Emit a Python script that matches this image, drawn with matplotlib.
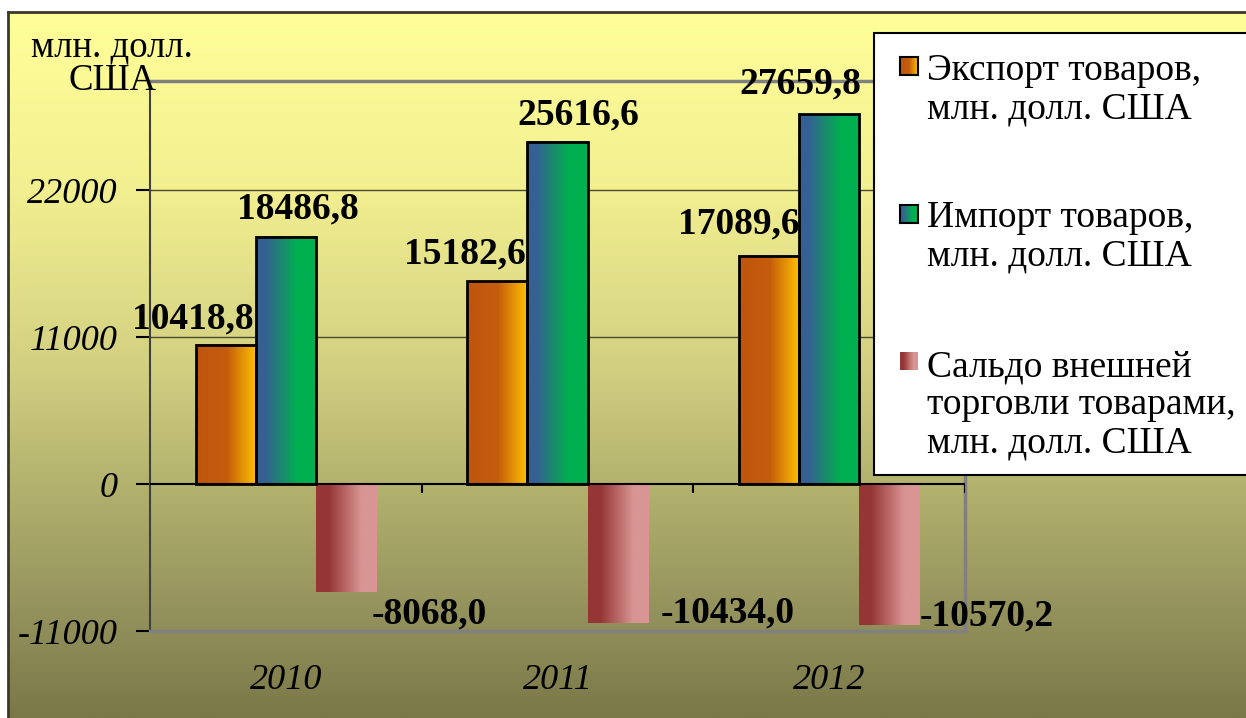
import matplotlib
matplotlib.use("Agg")
import matplotlib.pyplot as plt
from matplotlib.colors import LinearSegmentedColormap
from matplotlib.patches import Rectangle
import numpy as np

plt.rcParams['font.family'] = ['Liberation Serif', 'DejaVu Serif']

# data
years = ['2010', '2011', '2012']
export = [10418.8, 15182.6, 17089.6]
imports = [18486.8, 25616.6, 27659.8]
saldo = [-8068.0, -10434.0, -10570.2]
series_names = ['Экспорт товаров,\nмлн. долл. США',
                'Импорт товаров,\nмлн. долл. США',
                'Сальдо внешней\nторговли товарами,\nмлн. долл. США']
yticks = [-11000, 0, 11000, 22000]

W, H = 1246, 718
fig = plt.figure(figsize=(W / 100, H / 100), dpi=100, facecolor='white')

# chart area background (vertical gradient, light yellow -> olive)
bg_cmap = LinearSegmentedColormap.from_list('bg', [
    (0.0, '#FFFF99'), (0.25, '#F2EF90'), (0.49, '#D4D282'),
    (0.67, '#B3B26E'), (0.85, '#94925C'), (1.0, '#7A7848')])
bg = fig.add_axes([8 / W, 0, 1 - 8 / W, 1 - 12 / H])
bg.imshow(np.linspace(0, 1, 256).reshape(-1, 1), cmap=bg_cmap, aspect='auto',
          extent=[0, 1, 0, 1], interpolation='bilinear')
bg.set_xlim(0, 1); bg.set_ylim(0, 1)
bg.set_xticks([]); bg.set_yticks([])
for s in ['left', 'top']:
    bg.spines[s].set_color('#3a3a28'); bg.spines[s].set_linewidth(2)
for s in ['right', 'bottom']:
    bg.spines[s].set_visible(False)

# plot area
ax = fig.add_axes([150 / W, 1 - 631 / H, (965 - 150) / W, (631 - 81) / H])
ax.set_facecolor('none')

x = np.arange(len(years))
bw = 0.221

exp_cmap = LinearSegmentedColormap.from_list('exp', [
    (0, '#C0560E'), (0.5, '#C45B0C'), (1, '#FFC200')])
imp_cmap = LinearSegmentedColormap.from_list('imp', [
    (0, '#366092'), (0.15, '#366092'), (0.68, '#00B050'), (1, '#00B050')])
sal_cmap = LinearSegmentedColormap.from_list('sal', [
    (0, '#953635'), (0.2, '#953635'), (0.75, '#D99594'), (1, '#D99594')])

b1 = ax.bar(x - bw, export, bw, edgecolor='black', linewidth=2, zorder=4)
b2 = ax.bar(x, imports, bw, edgecolor='black', linewidth=2, zorder=4)
b3 = ax.bar(x + bw, saldo, bw, linewidth=0, zorder=4)

grad = np.linspace(0, 1, 256).reshape(1, -1)
for bars, cm in [(b1, exp_cmap), (b2, imp_cmap), (b3, sal_cmap)]:
    for b in bars:
        x0, y0 = b.get_x(), b.get_y()
        w, h = b.get_width(), b.get_height()
        ax.imshow(grad, cmap=cm, aspect='auto', interpolation='bilinear',
                  extent=[x0, x0 + w, min(y0, y0 + h), max(y0, y0 + h)], zorder=3)
        b.set_facecolor('none')

# grid, zero line, boundary ticks
for yv in [11000, 22000]:
    ax.axhline(yv, color='#4a4a30', lw=1, zorder=1)
ax.axhline(0, color='black', lw=1.5, zorder=5)
ax.vlines([0.5, 1.5, 2.5], -700, 0, color='black', lw=1.5, zorder=5)

ax.set_xlim(-0.5, 2.5)
ax.set_ylim(-11000, 30160)
ax.set_yticks(yticks)
ax.set_yticklabels([str(v) for v in yticks], fontsize=26, style='italic')
ax.set_xticks(x)
ax.set_xticklabels(years, fontsize=26, style='italic')
ax.tick_params(axis='y', length=10, width=1.5, color='black', pad=13)
ax.tick_params(axis='x', length=0, pad=24)

ax.spines['left'].set_color('#404040'); ax.spines['left'].set_linewidth(1.5)
for s in ['top', 'right', 'bottom']:
    ax.spines[s].set_color('#808080'); ax.spines[s].set_linewidth(2.5)

# value labels (offsets in pixels from bar end)
def fmt(v):
    return f'{v:.1f}'.replace('.', ',')

exp_off = [(-33, 26), (-33, 27), (-30, 32)]
imp_off = [(12, 28), (21, 27), (-29, 30)]
sal_off = [(83, -22), (110, 10), (97, 9)]
for bars, vals, offs in [(b1, export, exp_off), (b2, imports, imp_off), (b3, saldo, sal_off)]:
    for b, v, o in zip(bars, vals, offs):
        ax.annotate(fmt(v), (b.get_x() + b.get_width() / 2, v), xytext=o,
                    textcoords='offset pixels', ha='center', va='center',
                    fontsize=27, fontweight='bold', zorder=6, annotation_clip=False)

# axis unit label
fig.text(112 / W, 1 - 64 / H, 'млн. долл.\nСША', ha='center', va='center',
         fontsize=26.5, linespacing=1.0)

# legend box
fig.add_artist(Rectangle((874 / W, 1 - 475 / H), (W - 874 + 20) / W, (475 - 33) / H,
                         transform=fig.transFigure, facecolor='white',
                         edgecolor='black', linewidth=1.5, zorder=5))
leg_cmaps = [exp_cmap, imp_cmap, sal_cmap]
leg_edge = [True, True, False]
sq_top = [57, 205, 352]
txt_center = [90, 237, 405]
for name, cm, ed, st, tc in zip(series_names, leg_cmaps, leg_edge, sq_top, txt_center):
    sq = fig.add_axes([900 / W, 1 - (st + 18) / H, 18 / W, 18 / H], zorder=7)
    sq.imshow(grad, cmap=cm, aspect='auto', interpolation='bilinear', extent=[0, 1, 0, 1])
    sq.set_xticks([]); sq.set_yticks([])
    for s in sq.spines.values():
        s.set_visible(ed)
        s.set_linewidth(1.5)
    fig.text(927 / W, 1 - tc / H, name, ha='left', va='center', fontsize=27,
             linespacing=1.13, zorder=8)

fig.savefig('out.png', dpi=100)
